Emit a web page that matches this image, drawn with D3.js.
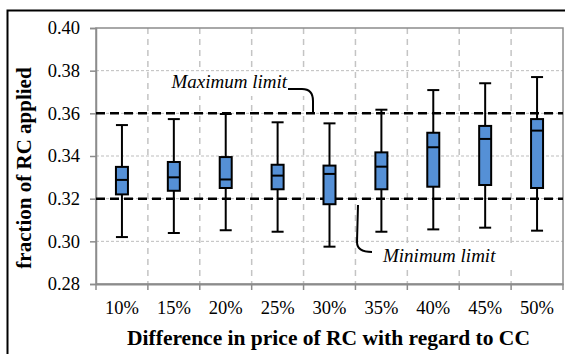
<!DOCTYPE html>
<html>
<head>
<meta charset="utf-8">
<script src="https://cdn.jsdelivr.net/npm/d3@7"></script>
<style>
  body { margin: 0; background: #fff; }
  text { font-family: "Liberation Serif", "Times New Roman", serif; }
</style>
</head>
<body>
<div id="chart"></div>
<script>
var categories  = ["10%", "15%", "20%", "25%", "30%", "35%", "40%", "45%", "50%"];
var whiskerLow  = [0.3020, 0.3039, 0.3052, 0.3045, 0.2975, 0.3045, 0.3056, 0.3064, 0.3050];
var q1          = [0.3220, 0.3237, 0.3250, 0.3244, 0.3174, 0.3244, 0.3256, 0.3264, 0.3250];
var median      = [0.3288, 0.3300, 0.3290, 0.3308, 0.3316, 0.3350, 0.3441, 0.3480, 0.3519];
var q3          = [0.3349, 0.3372, 0.3395, 0.3359, 0.3355, 0.3417, 0.3509, 0.3541, 0.3573];
var whiskerHigh = [0.3545, 0.3573, 0.3597, 0.3558, 0.3553, 0.3617, 0.3709, 0.3741, 0.3770];
var yTicks      = [0.28, 0.30, 0.32, 0.34, 0.36, 0.38, 0.40];
var limits      = [0.32, 0.36];

var width = 565, height = 354;
var plot = { left: 96, right: 563, top: 28, bottom: 284 };
var serif = "'Liberation Serif', 'Times New Roman', serif";

var svg = d3.select("#chart").append("svg")
    .attr("width", width)
    .attr("height", height);

// outer frame
svg.append("rect")
    .attr("x", 7.5).attr("y", 10.5)
    .attr("width", 570).attr("height", 360)
    .style("fill", "none")
    .style("stroke", "#000")
    .style("stroke-width", 2);

var x = d3.scaleBand().domain(categories).range([plot.left, plot.right]).padding(0);
var y = d3.scaleLinear().domain([0.28, 0.40]).range([plot.bottom, plot.top]);

var boxes = categories.map(function(c, i) {
  return { cat: c, lo: whiskerLow[i], q1: q1[i], med: median[i], q3: q3[i], hi: whiskerHigh[i] };
});

// grid
svg.append("g").selectAll("line.hgrid")
    .data(yTicks.filter(function(t) { return t > 0.28 && t < 0.40; }))
    .enter().append("line")
    .attr("x1", plot.left).attr("x2", plot.right)
    .attr("y1", function(d) { return y(d); })
    .attr("y2", function(d) { return y(d); })
    .style("stroke", "#bdbdbd")
    .style("stroke-width", 1)
    .style("stroke-dasharray", "3,2");

var bounds = categories.slice(1).map(function(c) { return x(c); });

svg.append("g").selectAll("line.vgrid")
    .data(bounds)
    .enter().append("line")
    .attr("x1", function(d) { return d; })
    .attr("x2", function(d) { return d; })
    .attr("y1", plot.top).attr("y2", plot.bottom)
    .style("stroke", "#c4c4c4")
    .style("stroke-width", 1.5)
    .style("stroke-dasharray", "6,5");

// label backgrounds hide the grid behind the text
svg.append("rect").attr("x", 152).attr("y", 72).attr("width", 160).attr("height", 24).style("fill", "#fff");
svg.append("rect").attr("x", 362).attr("y", 243).attr("width", 163).attr("height", 26).style("fill", "#fff");

// plot border
svg.append("rect")
    .attr("x", plot.left).attr("y", plot.top)
    .attr("width", plot.right - plot.left)
    .attr("height", plot.bottom - plot.top)
    .style("fill", "none")
    .style("stroke", "#8c8c8c")
    .style("stroke-width", 1.5);

// axes
var yAxis = d3.axisLeft(y).tickValues(yTicks).tickFormat(d3.format(".2f")).tickSize(6).tickPadding(10);
var gy = svg.append("g")
    .attr("transform", "translate(" + plot.left + ",0)")
    .attr("font-family", serif)
    .call(yAxis);
gy.attr("font-family", serif);
gy.select(".domain").style("stroke", "#8c8c8c").style("stroke-width", 1.5);
gy.selectAll(".tick line").style("stroke", "#8c8c8c").style("stroke-width", 1.5);
gy.selectAll("text").style("font-size", "18.5px").style("fill", "#000");

var xAxis = d3.axisBottom(x).tickSize(0).tickPadding(17);
var gx = svg.append("g")
    .attr("transform", "translate(0," + plot.bottom + ")")
    .call(xAxis);
gx.attr("font-family", serif);
gx.select(".domain").style("stroke", "#8c8c8c").style("stroke-width", 2);
gx.selectAll("text").style("font-size", "18.5px").style("fill", "#000");

svg.append("g").selectAll("line.xtick")
    .data([plot.left].concat(bounds, [plot.right]))
    .enter().append("line")
    .attr("x1", function(d) { return d; })
    .attr("x2", function(d) { return d; })
    .attr("y1", plot.bottom).attr("y2", plot.bottom + 6)
    .style("stroke", "#8c8c8c")
    .style("stroke-width", 1.5);

// limit lines
svg.append("g").selectAll("line.limit")
    .data(limits)
    .enter().append("line")
    .attr("x1", plot.left).attr("x2", plot.right)
    .attr("y1", function(d) { return y(d); })
    .attr("y2", function(d) { return y(d); })
    .style("stroke", "#000")
    .style("stroke-width", 2.5)
    .style("stroke-dasharray", "9,5");

// box plots
var boxW = 12, capW = 12;
var g = svg.append("g").selectAll("g.box")
    .data(boxes)
    .enter().append("g")
    .attr("transform", function(d) { return "translate(" + (x(d.cat) + x.bandwidth() / 2) + ",0)"; });

g.append("line")
    .attr("x1", 0).attr("x2", 0)
    .attr("y1", function(d) { return y(d.hi); })
    .attr("y2", function(d) { return y(d.lo); })
    .style("stroke", "#000").style("stroke-width", 2);

g.selectAll("line.cap")
    .data(function(d) { return [d.hi, d.lo]; })
    .enter().append("line")
    .attr("x1", -capW / 2).attr("x2", capW / 2)
    .attr("y1", function(v) { return y(v); })
    .attr("y2", function(v) { return y(v); })
    .style("stroke", "#000").style("stroke-width", 2);

g.append("rect")
    .attr("x", -boxW / 2)
    .attr("y", function(d) { return y(d.q3); })
    .attr("width", boxW)
    .attr("height", function(d) { return y(d.q1) - y(d.q3); })
    .style("fill", "#5590d6")
    .style("stroke", "#000")
    .style("stroke-width", 2);

g.append("line")
    .attr("x1", -boxW / 2).attr("x2", boxW / 2)
    .attr("y1", function(d) { return y(d.med); })
    .attr("y2", function(d) { return y(d.med); })
    .style("stroke", "#000").style("stroke-width", 2);

// annotations
svg.append("text")
    .attr("x", 287).attr("y", 88)
    .attr("text-anchor", "end")
    .style("font-size", "19px")
    .style("font-style", "italic")
    .text("Maximum limit");

svg.append("path")
    .attr("d", "M288,89 L302,89 Q313,89 313,101 L313,113")
    .style("fill", "none").style("stroke", "#000").style("stroke-width", 2);

svg.append("text")
    .attr("x", 383).attr("y", 262)
    .style("font-size", "19px")
    .style("font-style", "italic")
    .text("Minimum limit");

svg.append("path")
    .attr("d", "M358,205 L357,242 Q357,252 372,252")
    .style("fill", "none").style("stroke", "#000").style("stroke-width", 2);

// axis titles
svg.append("text")
    .attr("transform", "translate(31," + ((plot.top + plot.bottom) / 2 + 12) + ") rotate(-90)")
    .attr("text-anchor", "middle")
    .style("font-size", "21px")
    .style("font-weight", "bold")
    .text("fraction of RC applied");

svg.append("text")
    .attr("x", (plot.left + plot.right) / 2 - 1)
    .attr("y", 345)
    .attr("text-anchor", "middle")
    .style("font-size", "21.5px")
    .style("font-weight", "bold")
    .text("Difference in price of RC with regard to CC");
</script>
</body>
</html>
